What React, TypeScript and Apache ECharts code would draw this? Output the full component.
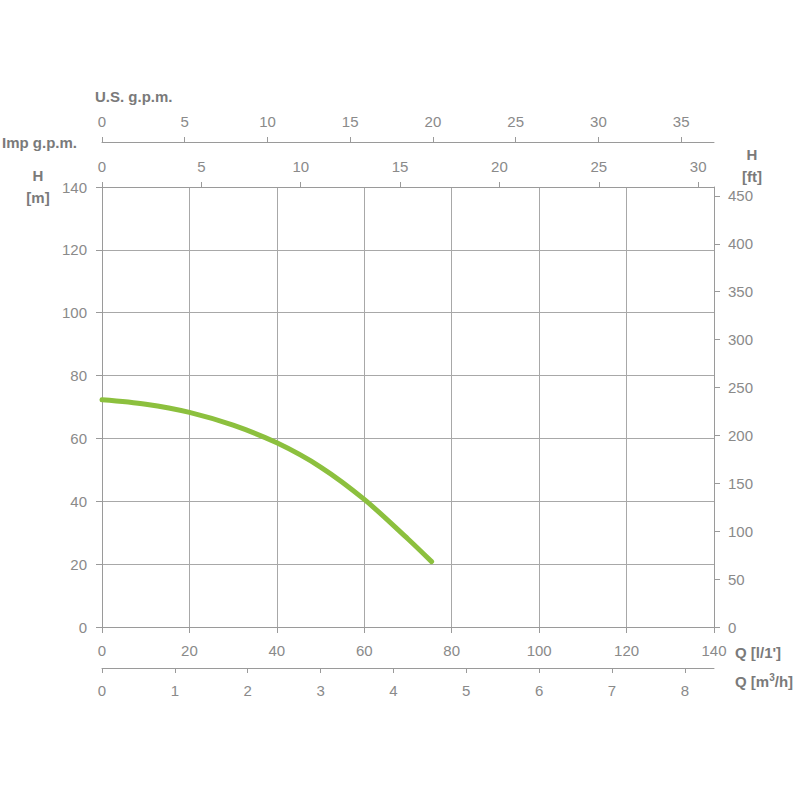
import React, { useEffect, useRef } from "react";
import * as echarts from "echarts";

// Pump curve: flow Q [l/min] vs head H [m]
const flowLpm = [0, 10, 20, 30, 40, 50, 60, 70, 75.4];
const headM = [72.3, 70.9, 68.3, 64.2, 58.6, 50.9, 40.6, 28.0, 20.8];

const qLpmTicks = [0, 20, 40, 60, 80, 100, 120, 140];
const qM3hTicks = [0, 1, 2, 3, 4, 5, 6, 7, 8];
const impGpmTicks = [0, 5, 10, 15, 20, 25, 30];
const usGpmTicks = [0, 5, 10, 15, 20, 25, 30, 35];
const hMTicks = [0, 20, 40, 60, 80, 100, 120, 140];
const hFtTicks = [0, 50, 100, 150, 200, 250, 300, 350, 400, 450];

const Q_MAX = 140;
const H_MAX = 140;
const LPM_PER_M3H = 1000 / 60;
const LPM_PER_IMP = 4.54609;
const LPM_PER_US = 3.78541;
const FT_PER_M = 3.28084;

const AXIS_COLOR = "#9a9a9a";
const LABEL_COLOR = "#8a8a8a";
const NAME_COLOR = "#7a7a7a";
const FONT = "Liberation Sans, Arial, sans-serif";

export default function App() {
  const ref = useRef<HTMLDivElement>(null);
  useEffect(() => {
    document.body.style.margin = "0";
    if (!ref.current) return;
    const chart = echarts.init(ref.current, undefined, { renderer: "svg" });
    const lineStyle = { color: AXIS_COLOR, width: 1 };
    const axisLine = { show: true, onZero: false, lineStyle };
    const label = (margin: number, custom?: number[]) => ({
      color: LABEL_COLOR,
      fontSize: 15,
      fontFamily: FONT,
      margin,
      ...(custom ? { customValues: custom } : {}),
    });
    const tick = (len: number, custom?: number[]) => ({
      show: true,
      inside: false,
      length: len,
      lineStyle,
      ...(custom ? { customValues: custom } : {}),
    });
    const nameStyle = {
      fill: NAME_COLOR,
      fontSize: 15,
      fontWeight: "bold",
      fontFamily: FONT,
    };
    chart.setOption({
      animation: false,
      backgroundColor: "#ffffff",
      grid: { left: 102, right: 86, top: 187, bottom: 173, containLabel: false },
      xAxis: [
        {
          type: "value",
          position: "bottom",
          min: 0,
          max: Q_MAX,
          interval: 20,
          axisLine,
          axisTick: tick(6, qLpmTicks),
          axisLabel: label(16, qLpmTicks),
          splitLine: { show: true, lineStyle: { color: "#a8a8a8", width: 1 } },
        },
        {
          type: "value",
          position: "bottom",
          offset: 41,
          min: 0,
          max: Q_MAX / LPM_PER_M3H,
          axisLine,
          axisTick: tick(5, qM3hTicks),
          axisLabel: label(15, qM3hTicks),
          splitLine: { show: false },
        },
        {
          type: "value",
          position: "top",
          min: 0,
          max: Q_MAX / LPM_PER_IMP,
          axisLine,
          axisTick: tick(5, impGpmTicks),
          axisLabel: label(13, impGpmTicks),
          splitLine: { show: false },
        },
        {
          type: "value",
          position: "top",
          offset: 45,
          min: 0,
          max: Q_MAX / LPM_PER_US,
          axisLine,
          axisTick: tick(5, usGpmTicks),
          axisLabel: label(13, usGpmTicks),
          splitLine: { show: false },
        },
      ],
      yAxis: [
        {
          type: "value",
          position: "left",
          min: 0,
          max: H_MAX,
          interval: 20,
          axisLine,
          axisTick: tick(6, hMTicks),
          axisLabel: label(15, hMTicks),
          splitLine: { show: true, lineStyle: { color: "#a8a8a8", width: 1 } },
        },
        {
          type: "value",
          position: "right",
          min: 0,
          max: H_MAX * FT_PER_M,
          axisLine,
          axisTick: tick(6, hFtTicks),
          axisLabel: label(14, hFtTicks),
          splitLine: { show: false },
        },
      ],
      series: [
        {
          type: "line",
          xAxisIndex: 0,
          yAxisIndex: 0,
          data: flowLpm.map((q, i) => [q, headM[i]]),
          smooth: 0.3,
          symbol: "none",
          lineStyle: { color: "#8cc03e", width: 5, cap: "round" },
          z: 5,
        },
      ],
      graphic: [
        { type: "text", left: 95, top: 89, style: { ...nameStyle, text: "U.S. g.p.m." } },
        { type: "text", left: 2, top: 135, style: { ...nameStyle, text: "Imp g.p.m." } },
        { type: "text", x: 38, y: 175, style: { ...nameStyle, text: "H", align: "center", verticalAlign: "middle" } },
        { type: "text", x: 38, y: 197, style: { ...nameStyle, text: "[m]", align: "center", verticalAlign: "middle" } },
        { type: "text", x: 752, y: 154, style: { ...nameStyle, text: "H", align: "center", verticalAlign: "middle" } },
        { type: "text", x: 752, y: 176, style: { ...nameStyle, text: "[ft]", align: "center", verticalAlign: "middle" } },
        { type: "text", x: 735, y: 652, style: { ...nameStyle, text: "Q [l/1']", verticalAlign: "middle" } },
        {
          type: "text",
          x: 735,
          y: 681,
          style: {
            ...nameStyle,
            text: "Q [m{sup|3}/h]",
            verticalAlign: "middle",
            rich: {
              sup: {
                fill: NAME_COLOR,
                fontSize: 10,
                fontWeight: "bold",
                fontFamily: FONT,
                verticalAlign: "top",
                padding: [0, 0, 8, 0],
              },
            },
          },
        },
      ],
    });
    return () => chart.dispose();
  }, []);
  return <div ref={ref} style={{ width: 800, height: 800 }} />;
}
